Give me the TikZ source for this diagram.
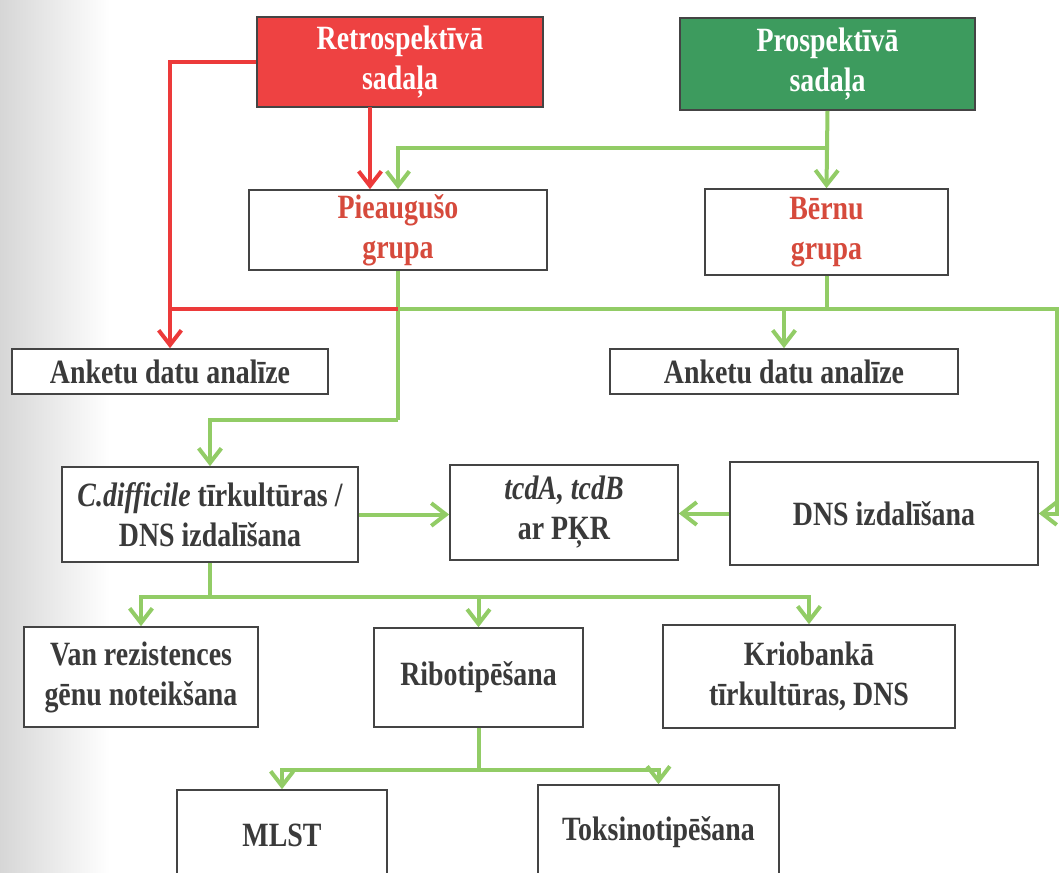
\documentclass[tikz,border=0pt]{standalone}
\usepackage{fontspec}
\setmainfont{Liberation Serif}[FakeStretch=0.82]
\usetikzlibrary{arrows.meta}
\definecolor{retrored}{RGB}{238,66,66}
\definecolor{prospgreen}{RGB}{61,155,94}
\definecolor{linkgreen}{RGB}{146,204,102}
\definecolor{linkred}{RGB}{236,58,58}
\definecolor{grouptext}{RGB}{214,74,60}
\definecolor{boxtext}{RGB}{58,58,58}
\definecolor{boxline}{RGB}{68,68,68}
\tikzset{
  box/.style={draw=boxline, line width=1.2pt, fill=white, align=center, inner sep=0pt, text=boxtext, font=\fontsize{25.5}{30}\selectfont\bfseries},
  sz/.style 2 args={minimum width=#1*0.75pt, minimum height=#2*0.75pt},
  gline/.style={draw=linkgreen, line width=3pt},
  rline/.style={draw=linkred, line width=3pt}}
\begin{document}
\begin{tikzpicture}[x=0.75pt, y=-0.75pt, >={Straight Barb[length=11pt,width=17pt]}]
\useasboundingbox (0,0) rectangle (1061,872);
\clip (0,0) rectangle (1061,872);
\shade [left color=black!16, right color=white] (0,0) rectangle (110,872);
\node [box, sz={286}{90}, fill=retrored, text=white] (retro) at (400,62) {Retrospektīvā\\sadaļa};
\node [box, sz={295}{92}, fill=prospgreen, text=white] (prosp) at (827.5,64) {Prospektīvā\\sadaļa};
\node [box, sz={298}{80}, text=grouptext] (adult) at (398,230) {Pieaugušo\\grupa};
\node [box, sz={243}{86}, text=grouptext] (child) at (826.5,232) {Bērnu\\grupa};
\node [box, sz={316}{45}] (survL) at (170,371.5) {Anketu datu analīze};
\node [box, sz={348}{45}] (survR) at (784,371.5) {Anketu datu analīze};
\node [box, sz={296}{95}] (cult) at (210,514.5) {\textit{C.difficile} tīrkultūras /\\DNS izdalīšana};
\node [box, sz={228}{95}] (pcr) at (564,512.5) {\textit{tcdA, tcdB}\\ar PĶR};
\node [box, sz={308}{103}] (dnaext) at (884,513.5) {DNS izdalīšana};
\node [box, sz={234}{100}] (van) at (141,677) {Van rezistences\\gēnu noteikšana};
\node [box, sz={209}{99}] (ribo) at (478.5,677.5) {Ribotipēšana};
\node [box, sz={292}{103}] (krio) at (809,676.5) {Kriobankā\\tīrkultūras, DNS};
\node [box, sz={210}{90}] (mlst) at (282,835) {MLST};
\node [box, sz={241}{95}] (toks) at (658.5,832.5) {Toksinotipēšana};
\coordinate (rsplit) at (370,107);
\coordinate (psplit) at (827.5,148);
\coordinate (gsplit) at (398,309);
\coordinate (gedge) at (1057,309);
\coordinate (gturn) at (398,420);
\coordinate (csplit) at (210,597);
\coordinate (bsplit) at (478.5,770);
\draw [gline,->] (prosp.south) -- (child.north);
\draw [gline,->] (psplit) -| (adult.north);
\draw [gline] (child.south) -- (child.south |- gsplit);
\draw [gline] (adult.south) -- (gturn);
\draw [gline,->] (gturn) -| (cult.north);
\draw [gline,->] (gsplit) -- (gedge) |- (dnaext.east);
\draw [gline,->] (survR.north |- gsplit) -- (survR.north);
\draw [rline,->] (retro.west) -| (survL.north);
\draw [rline,->] (rsplit) -- (rsplit |- adult.north);
\draw [rline] (survL.north |- gsplit) -- (gsplit);
\draw [gline,->] (cult.east) -- (cult.east -| pcr.west);
\draw [gline,->] (dnaext.west) -- (dnaext.west -| pcr.east);
\draw [gline] (cult.south) -- (csplit);
\draw [gline,->] (csplit) -| (van.north);
\draw [gline,->] (csplit) -| (ribo.north);
\draw [gline,->] (csplit) -| (krio.north);
\draw [gline] (ribo.south) -- (bsplit);
\draw [gline,->] (bsplit) -| (mlst.north);
\draw [gline,->] (bsplit) -| (toks.north);
\end{tikzpicture}
\end{document}
